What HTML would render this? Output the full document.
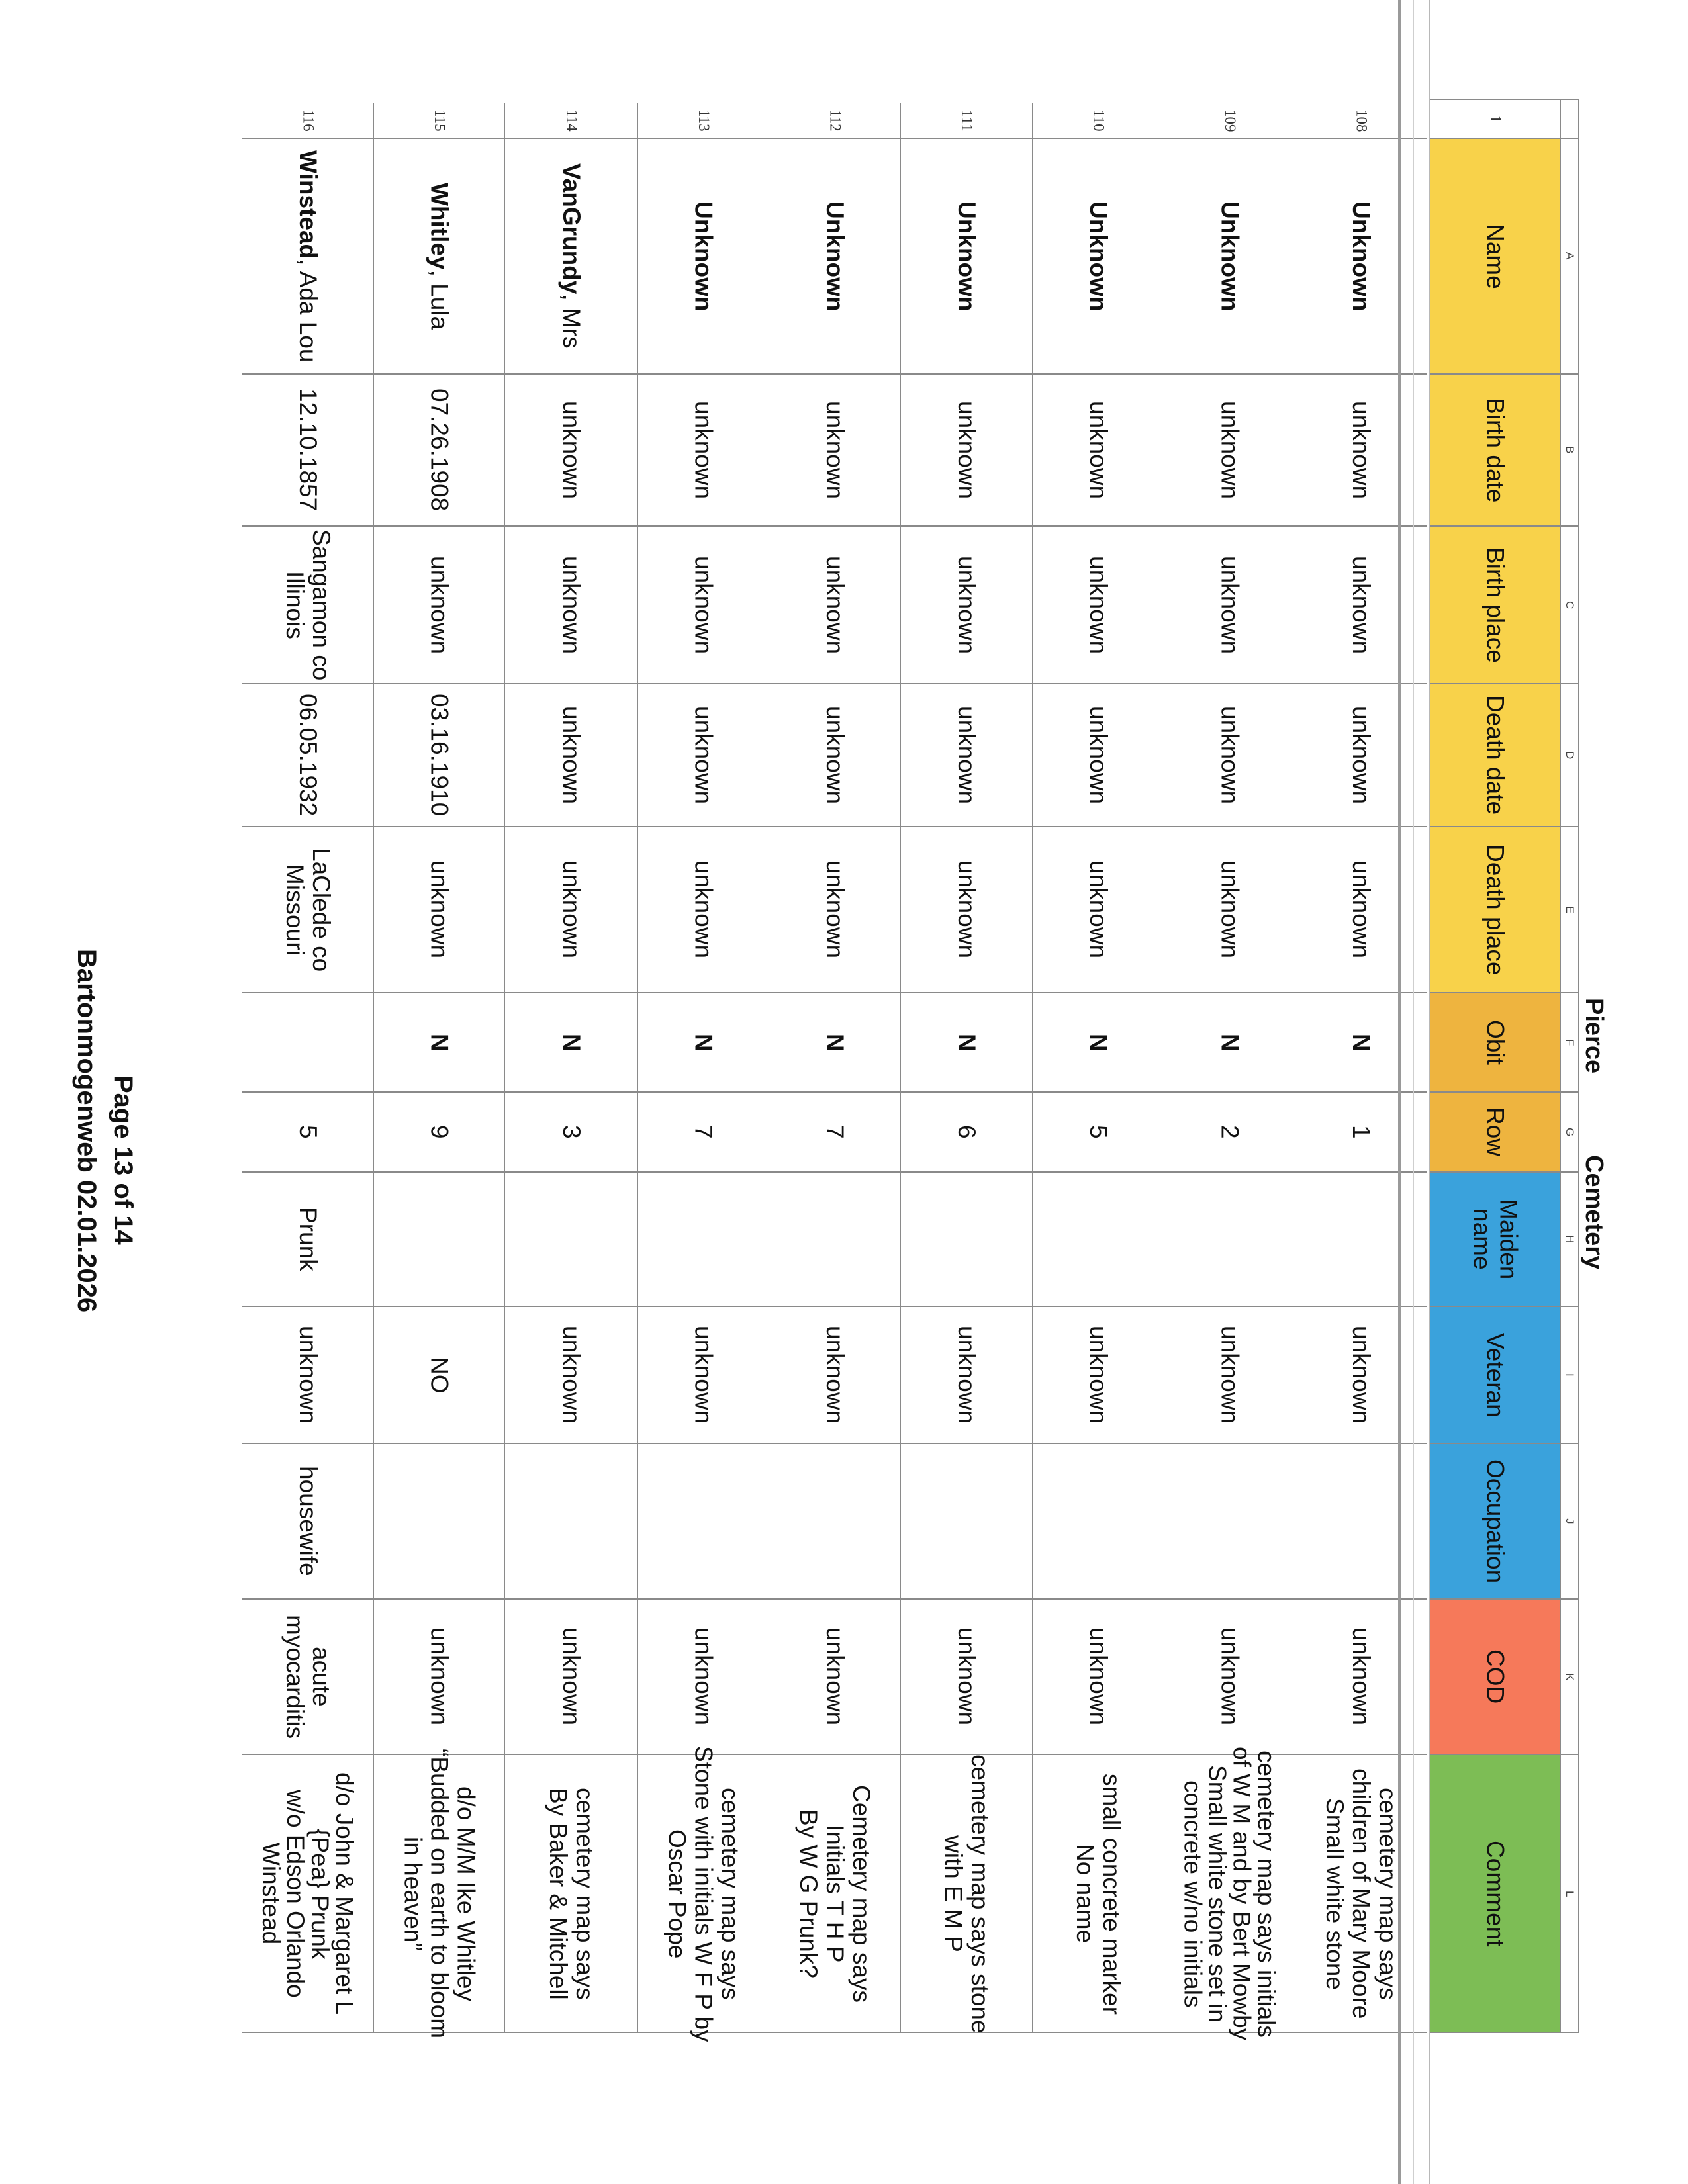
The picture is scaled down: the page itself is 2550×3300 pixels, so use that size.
<!DOCTYPE html>
<html><head><meta charset="utf-8">
<style>
html,body{margin:0;padding:0;background:#fff}
body{width:2550px;height:3300px;position:relative;overflow:hidden;font-family:"Liberation Sans",Arial,sans-serif;color:#111}
.c{position:absolute;box-sizing:border-box;border:1.5px solid #8a8a8a;writing-mode:vertical-rl;display:flex;align-items:center;justify-content:center;text-align:center;font-size:37px;line-height:1.08;white-space:nowrap}
.num{font-family:"Liberation Serif",serif;font-size:23px;color:#333}
.let{font-size:17px;color:#444}
b{font-weight:bold}
.hdr{font-size:37px}
.y{background:#f8d24a}.o{background:#eeb43f}.bl{background:#3aa2dc}.rd{background:#f6795a}.g{background:#7dbd55}
/* columns */
.cn{top:155px;height:54px}.cA{top:209px;height:356px}.cB{top:565px;height:230px}.cC{top:795px;height:238px}
.cD{top:1033px;height:216px}.cE{top:1249px;height:251px}.cF{top:1500px;height:150px}.cG{top:1650px;height:121px}
.cH{top:1771px;height:203px}.cI{top:1974px;height:207px}.cJ{top:2181px;height:235px}.cK{top:2416px;height:235px}.cL{top:2651px;height:421px}
/* rows */
.r116{left:365px;width:200px}.r115{left:564px;width:199px}.r114{left:762px;width:202px}.r113{left:963px;width:199px}
.r112{left:1161px;width:200px}.r111{left:1360px;width:200px}.r110{left:1559px;width:200px}.r109{left:1758px;width:199px}
.r108{left:1956px;width:200px}
.rh{left:2159px;width:199px}.rl{left:2357px;width:28px}
.vl{position:absolute;top:0;height:3300px;z-index:5}
.t{position:absolute;writing-mode:vertical-rl;font-weight:bold;font-size:38px;white-space:nowrap}
</style></head><body>

<div class="vl" style="left:2112px;width:5px;background:#9a9a9a"></div>
<div class="vl" style="left:2134px;width:2px;background:#cfcfcf"></div>
<div class="vl" style="left:2158px;width:2px;background:#b8b8b8"></div>

<div class="t" style="left:2386px;top:1508px">Pierce</div>
<div class="t" style="left:2386px;top:1745px">Cemetery</div>

<div class="t" style="left:163px;top:1625px;font-size:40px">Page 13 of 14</div>
<div class="t" style="left:108px;top:1434px;font-size:40px">Bartonmogenweb 02.01.2026</div>

<!-- letter row -->
<div class="c rl let" style="top:150px;height:59px"></div>
<div class="c rl let cA">A</div><div class="c rl let cB">B</div><div class="c rl let cC">C</div><div class="c rl let cD">D</div>
<div class="c rl let cE">E</div><div class="c rl let cF">F</div><div class="c rl let cG">G</div><div class="c rl let cH">H</div>
<div class="c rl let cI">I</div><div class="c rl let cJ">J</div><div class="c rl let cK">K</div><div class="c rl let cL">L</div>

<!-- header row -->
<div class="c rh num" style="top:150px;height:59px">1</div>
<div class="c rh hdr y cA">Name</div><div class="c rh hdr y cB">Birth date</div><div class="c rh hdr y cC">Birth place</div>
<div class="c rh hdr y cD">Death date</div><div class="c rh hdr y cE">Death place</div><div class="c rh hdr o cF">Obit</div>
<div class="c rh hdr o cG">Row</div><div class="c rh hdr bl cH">Maiden<br>name</div><div class="c rh hdr bl cI">Veteran</div>
<div class="c rh hdr bl cJ">Occupation</div><div class="c rh hdr rd cK">COD</div><div class="c rh hdr g cL">Comment</div>

<!-- 108 -->
<div class="c r108 num cn">108</div><div class="c r108 cA"><b>Unknown</b></div><div class="c r108 cB">unknown</div><div class="c r108 cC">unknown</div>
<div class="c r108 cD">unknown</div><div class="c r108 cE">unknown</div><div class="c r108 cF"><b>N</b></div><div class="c r108 cG">1</div>
<div class="c r108 cH"></div><div class="c r108 cI">unknown</div><div class="c r108 cJ"></div><div class="c r108 cK">unknown</div>
<div class="c r108 cL">cemetery map says<br>children of Mary Moore<br>Small white stone</div>

<!-- 109 -->
<div class="c r109 num cn">109</div><div class="c r109 cA"><b>Unknown</b></div><div class="c r109 cB">unknown</div><div class="c r109 cC">unknown</div>
<div class="c r109 cD">unknown</div><div class="c r109 cE">unknown</div><div class="c r109 cF"><b>N</b></div><div class="c r109 cG">2</div>
<div class="c r109 cH"></div><div class="c r109 cI">unknown</div><div class="c r109 cJ"></div><div class="c r109 cK">unknown</div>
<div class="c r109 cL" style="line-height:1.0">cemetery map says initials<br>of W M and by Bert Mowby<br>Small white stone set in<br>concrete w/no initials</div>

<!-- 110 -->
<div class="c r110 num cn">110</div><div class="c r110 cA"><b>Unknown</b></div><div class="c r110 cB">unknown</div><div class="c r110 cC">unknown</div>
<div class="c r110 cD">unknown</div><div class="c r110 cE">unknown</div><div class="c r110 cF"><b>N</b></div><div class="c r110 cG">5</div>
<div class="c r110 cH"></div><div class="c r110 cI">unknown</div><div class="c r110 cJ"></div><div class="c r110 cK">unknown</div>
<div class="c r110 cL">small concrete marker<br>No name</div>

<!-- 111 -->
<div class="c r111 num cn">111</div><div class="c r111 cA"><b>Unknown</b></div><div class="c r111 cB">unknown</div><div class="c r111 cC">unknown</div>
<div class="c r111 cD">unknown</div><div class="c r111 cE">unknown</div><div class="c r111 cF"><b>N</b></div><div class="c r111 cG">6</div>
<div class="c r111 cH"></div><div class="c r111 cI">unknown</div><div class="c r111 cJ"></div><div class="c r111 cK">unknown</div>
<div class="c r111 cL">cemetery map says stone<br>with E M P</div>

<!-- 112 -->
<div class="c r112 num cn">112</div><div class="c r112 cA"><b>Unknown</b></div><div class="c r112 cB">unknown</div><div class="c r112 cC">unknown</div>
<div class="c r112 cD">unknown</div><div class="c r112 cE">unknown</div><div class="c r112 cF"><b>N</b></div><div class="c r112 cG">7</div>
<div class="c r112 cH"></div><div class="c r112 cI">unknown</div><div class="c r112 cJ"></div><div class="c r112 cK">unknown</div>
<div class="c r112 cL">Cemetery map says<br>Initials T H P<br>By W G Prunk?</div>

<!-- 113 -->
<div class="c r113 num cn">113</div><div class="c r113 cA"><b>Unknown</b></div><div class="c r113 cB">unknown</div><div class="c r113 cC">unknown</div>
<div class="c r113 cD">unknown</div><div class="c r113 cE">unknown</div><div class="c r113 cF"><b>N</b></div><div class="c r113 cG">7</div>
<div class="c r113 cH"></div><div class="c r113 cI">unknown</div><div class="c r113 cJ"></div><div class="c r113 cK">unknown</div>
<div class="c r113 cL">cemetery map says<br>Stone with initials W F P by<br>Oscar Pope</div>

<!-- 114 -->
<div class="c r114 num cn">114</div><div class="c r114 cA"><span><b>VanGrundy</b>, Mrs</span></div><div class="c r114 cB">unknown</div><div class="c r114 cC">unknown</div>
<div class="c r114 cD">unknown</div><div class="c r114 cE">unknown</div><div class="c r114 cF"><b>N</b></div><div class="c r114 cG">3</div>
<div class="c r114 cH"></div><div class="c r114 cI">unknown</div><div class="c r114 cJ"></div><div class="c r114 cK">unknown</div>
<div class="c r114 cL">cemetery map says<br>By Baker &amp; Mitchell</div>

<!-- 115 -->
<div class="c r115 num cn">115</div><div class="c r115 cA"><span><b>Whitley</b>, Lula</span></div><div class="c r115 cB">07.26.1908</div><div class="c r115 cC">unknown</div>
<div class="c r115 cD">03.16.1910</div><div class="c r115 cE">unknown</div><div class="c r115 cF"><b>N</b></div><div class="c r115 cG">9</div>
<div class="c r115 cH"></div><div class="c r115 cI">NO</div><div class="c r115 cJ"></div><div class="c r115 cK">unknown</div>
<div class="c r115 cL">d/o M/M Ike Whitley<br>“Budded on earth to bloom<br>in heaven”</div>

<!-- 116 -->
<div class="c r116 num cn">116</div><div class="c r116 cA"><span><b>Winstead</b>, Ada Lou</span></div><div class="c r116 cB">12.10.1857</div><div class="c r116 cC">Sangamon co<br>Illinois</div>
<div class="c r116 cD">06.05.1932</div><div class="c r116 cE">LaClede co<br>Missouri</div><div class="c r116 cF"></div><div class="c r116 cG">5</div>
<div class="c r116 cH">Prunk</div><div class="c r116 cI">unknown</div><div class="c r116 cJ">housewife</div><div class="c r116 cK">acute<br>myocarditis</div>
<div class="c r116 cL" style="line-height:1.0">d/o John &amp; Margaret L<br>{Pea} Prunk<br>w/o Edson Orlando<br>Winstead</div>

</body></html>
